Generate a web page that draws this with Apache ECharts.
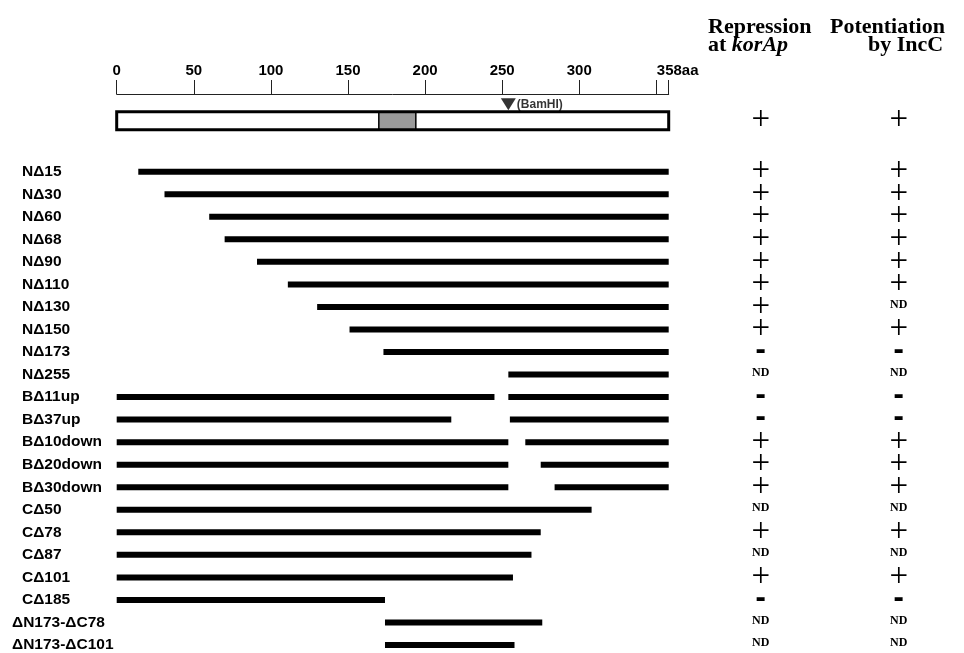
<!DOCTYPE html>
<html>
<head>
<meta charset="utf-8">
<script src="https://cdn.jsdelivr.net/npm/echarts@6/dist/echarts.min.js"></script>
<style>
html,body{margin:0;padding:0;background:#fff;}
#chart{width:964px;height:653px;}
</style>
</head>
<body>
<div id="chart"></div>
<script>
// ---- data ----
const proteinLength = 358;
const domainStart = 170;
const domainEnd = 194;
const bamHIsite = 254;
const xTickValues = [0, 50, 100, 150, 200, 250, 300, 350, 358];
const xTickLabels = ['0', '50', '100', '150', '200', '250', '300', '', '358aa'];

const rows = ['NΔ15','NΔ30','NΔ60','NΔ68','NΔ90','NΔ110','NΔ130','NΔ150','NΔ173','NΔ255',
  'BΔ11up','BΔ37up','BΔ10down','BΔ20down','BΔ30down',
  'CΔ50','CΔ78','CΔ87','CΔ101','CΔ185','ΔN173-ΔC78','ΔN173-ΔC101'];
const seg1Start = [14, 31, 60, 70, 91, 111, 130, 151, 173, 254, 0, 0, 0, 0, 0, 0, 0, 0, 0, 0, 174, 174];
const seg1End   = [358, 358, 358, 358, 358, 358, 358, 358, 358, 358, 245, 217, 254, 254, 254, 308, 275, 269, 257, 174, 276, 258];
const seg2Start = [null, null, null, null, null, null, null, null, null, null, 254, 255, 265, 275, 284, null, null, null, null, null, null, null];
const seg2End   = [null, null, null, null, null, null, null, null, null, null, 358, 358, 358, 358, 358, null, null, null, null, null, null, null];

const fullRepression = '+';
const fullPotentiation = '+';
const repression   = ['+','+','+','+','+','+','+','+','-','ND','-','-','+','+','+','ND','+','ND','+','-','ND','ND'];
const potentiation = ['+','+','+','+','+','+','ND','+','-','ND','-','-','+','+','+','ND','+','ND','+','-','ND','ND'];

// ---- build ----
const barData = [];
rows.forEach((r, i) => {
  barData.push([seg1Start[i], seg1End[i], i]);
  if (seg2Start[i] !== null) barData.push([seg2Start[i], seg2End[i], i]);
});

function resultFmt(v) {
  if (v === '+') return '{p|+}';
  if (v === '-') return '{m|-}';
  return '{nd|' + v + '}';
}
const resultRich = {
  p: {fontFamily: 'Liberation Serif', fontSize: 33, fontWeight: 'normal', color: '#000'},
  m: {fontFamily: 'DejaVu Sans', fontSize: 26, fontWeight: 'bold', color: '#000'},
  nd: {fontFamily: 'Liberation Serif', fontSize: 12, fontWeight: 'bold', color: '#000', padding: [0, 0, 4, 0]}
};

const gLeft = 116.7, gWidth = 552;
const chart = echarts.init(document.getElementById('chart'), null, {renderer: 'canvas'});
const option = {
  animation: false,
  backgroundColor: '#fff',
  grid: [
    {left: gLeft, width: gWidth, top: 94, height: 53.4},
    {left: gLeft, width: gWidth, top: 171.7, height: 477.3}
  ],
  xAxis: [
    {
      gridIndex: 0, type: 'value', position: 'top', min: 0, max: proteinLength, interval: 50,
      axisLine: {show: true, onZero: false, lineStyle: {color: '#222', width: 1}},
      axisTick: {show: true, length: 14, lineStyle: {color: '#222', width: 1}},
      splitLine: {show: false},
      axisLabel: {
        margin: 16, color: '#000', fontFamily: 'Liberation Sans', fontWeight: 'bold', fontSize: 15,
        formatter: function (v) {
          const k = xTickValues.indexOf(v);
          const t = k >= 0 ? xTickLabels[k] : '';
          if (v === proteinLength) return '{e|' + t + '}';
          return t;
        },
        rich: {e: {fontFamily: 'Liberation Sans', fontWeight: 'bold', fontSize: 15, color: '#000', padding: [0, 0, 0, 18]}}
      }
    },
    {gridIndex: 1, type: 'value', min: 0, max: proteinLength, show: false}
  ],
  yAxis: [
    {gridIndex: 0, type: 'category', data: ['full'], show: false},
    {
      gridIndex: 0, type: 'category', data: ['full'], position: 'right',
      axisLine: {show: false}, axisTick: {show: false},
      axisLabel: {margin: 92, align: 'center', formatter: () => resultFmt(fullRepression), rich: resultRich}
    },
    {
      gridIndex: 0, type: 'category', data: ['full'], position: 'right',
      axisLine: {show: false}, axisTick: {show: false},
      axisLabel: {margin: 230, align: 'center', formatter: () => resultFmt(fullPotentiation), rich: resultRich}
    },
    {
      gridIndex: 1, type: 'category', data: rows, inverse: true, position: 'left', boundaryGap: false,
      axisLine: {show: false}, axisTick: {show: false},
      axisLabel: {
        margin: 104.7, align: 'left', interval: 0,
        formatter: function (v, i) { return (i >= 20 ? '{w|' : '{n|') + v + '}'; },
        rich: {
          n: {fontFamily: 'Liberation Sans', fontWeight: 'bold', fontSize: 15.5, color: '#000', padding: [0, 0, 0, 10]},
          w: {fontFamily: 'Liberation Sans', fontWeight: 'bold', fontSize: 15.5, color: '#000'}
        }
      }
    },
    {
      gridIndex: 1, type: 'category', data: rows, inverse: true, position: 'right', boundaryGap: false,
      axisLine: {show: false}, axisTick: {show: false},
      axisLabel: {margin: 92, align: 'center', interval: 0, formatter: (v, i) => resultFmt(repression[i]), rich: resultRich}
    },
    {
      gridIndex: 1, type: 'category', data: rows, inverse: true, position: 'right', boundaryGap: false,
      axisLine: {show: false}, axisTick: {show: false},
      axisLabel: {margin: 230, align: 'center', interval: 0, formatter: (v, i) => resultFmt(potentiation[i]), rich: resultRich}
    }
  ],
  graphic: [
    {type: 'text', left: 708, top: 16, style: {text: 'Repression', font: 'bold 22px "Liberation Serif"', fill: '#000'}},
    {type: 'text', left: 708, top: 34, style: {text: 'at {i|korAp}', font: 'bold 22px "Liberation Serif"', fill: '#000',
      rich: {i: {fontStyle: 'italic', fontWeight: 'bold', fontSize: 22, fontFamily: 'Liberation Serif', fill: '#000'}}}},
    {type: 'text', left: 830, top: 16, style: {text: 'Potentiation', font: 'bold 22px "Liberation Serif"', fill: '#000'}},
    {type: 'text', left: 868, top: 34, style: {text: 'by IncC', font: 'bold 22px "Liberation Serif"', fill: '#000'}}
  ],
  series: [
    {
      type: 'custom', xAxisIndex: 0, yAxisIndex: 0,
      data: [[0, proteinLength, domainStart, domainEnd]],
      renderItem: function (params, api) {
        const a = api.coord([api.value(0), 0]);
        const b = api.coord([api.value(1), 0]);
        const c = api.coord([api.value(2), 0]);
        const d = api.coord([api.value(3), 0]);
        const h = 18;
        return {
          type: 'group',
          children: [
            {type: 'rect', shape: {x: a[0], y: a[1] - h / 2, width: b[0] - a[0], height: h}, style: {fill: '#fff', stroke: null}},
            {type: 'rect', shape: {x: c[0], y: c[1] - h / 2, width: d[0] - c[0], height: h}, style: {fill: '#9a9a9a', stroke: '#000', lineWidth: 1.5}},
            {type: 'rect', shape: {x: a[0], y: a[1] - h / 2, width: b[0] - a[0], height: h}, style: {fill: 'none', stroke: '#000', lineWidth: 3}}
          ]
        };
      }
    },
    {
      type: 'scatter', xAxisIndex: 0, yAxisIndex: 0,
      data: [[bamHIsite, 0]],
      symbol: 'triangle', symbolRotate: 180, symbolSize: [15, 12], symbolOffset: [0, -16.5],
      itemStyle: {color: '#000'},
      label: {show: true, position: 'right', distance: 1, formatter: '(BamHI)', color: '#000',
        fontFamily: 'Liberation Sans', fontWeight: 'bold', fontSize: 12}
    },
    {
      type: 'custom', xAxisIndex: 1, yAxisIndex: 3,
      data: barData,
      encode: {x: [0, 1], y: 2},
      renderItem: function (params, api) {
        const y = api.value(2);
        const a = api.coord([api.value(0), y]);
        const b = api.coord([api.value(1), y]);
        const h = 6;
        return {type: 'rect', shape: {x: a[0], y: a[1] - h / 2, width: b[0] - a[0], height: h}, style: {fill: '#000'}};
      }
    }
  ]
};
chart.setOption(option);
</script>
</body>
</html>
